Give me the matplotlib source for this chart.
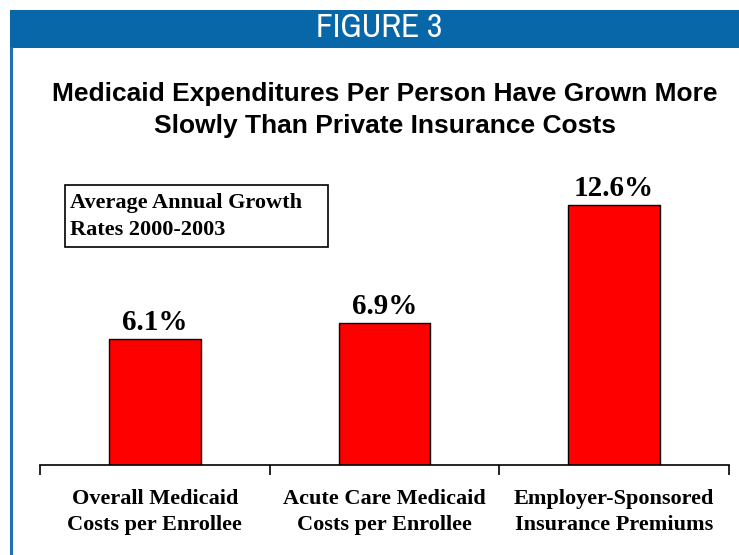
import matplotlib
matplotlib.use("Agg")
import matplotlib.pyplot as plt
from matplotlib.patches import Rectangle
from matplotlib.lines import Line2D

categories = ["Overall Medicaid\nCosts per Enrollee",
              "Acute Care Medicaid\nCosts per Enrollee",
              "Employer-Sponsored\nInsurance Premiums"]
values = [6.1, 6.9, 12.6]
value_labels = ["6.1%", "6.9%", "12.6%"]

W, H = 739, 555
fig = plt.figure(figsize=(W / 100, H / 100), dpi=100)
fig.patch.set_facecolor("white")

def fx(x):
    return x / W

def fy(y):
    return 1 - y / H

blue = "#0867a9"
fig.patches.append(Rectangle((fx(10), fy(48)), fx(739 - 10), (48 - 10) / H,
                             transform=fig.transFigure, facecolor=blue,
                             edgecolor="none", zorder=0))
fig.lines.append(Line2D([fx(11), fx(11)], [fy(48), 0], transform=fig.transFigure,
                        color="#1f70b8", linewidth=2.2))

fig.text(fx(379), fy(28), "FIGURE 3", color="white", ha="center", va="center",
         fontsize=24, family=["Archivo Narrow", "DejaVu Sans"])

fig.text(fx(385), fy(110), "Medicaid Expenditures Per Person Have Grown More\nSlowly Than Private Insurance Costs",
         ha="center", va="center", fontsize=19, fontweight="bold",
         family="Liberation Sans", linespacing=1.4)

ax = fig.add_axes([fx(40), 1 - 465 / H, fx(729 - 40), (465 - 176) / H])
x = list(range(len(categories)))
ax.bar(x, values, width=0.4, color="#ff0000", edgecolor="black", linewidth=1)
ax.set_xlim(-0.5, 2.5)
ax.set_ylim(0, 14)
for s in ["top", "right", "left"]:
    ax.spines[s].set_visible(False)
ax.spines["bottom"].set_linewidth(1.2)
ax.set_yticks([])
ax.set_xticks([-0.5, 0.5, 1.5, 2.5])
ax.set_xticklabels([])
ax.tick_params(axis="x", which="major", length=7, width=1.2, direction="out")
ax.set_xticks(x, minor=True)
ax.set_xticklabels(categories, minor=True, fontsize=16, fontweight="bold",
                   family="Liberation Serif", linespacing=1.45)
ax.tick_params(axis="x", which="minor", length=0, pad=17)

for xi, v, lab in zip(x, values, value_labels):
    ax.annotate(lab, (xi, v), xytext=(0, 2), textcoords="offset points",
                ha="center", va="bottom", fontsize=21, fontweight="bold",
                family="Liberation Serif")

fig.patches.append(Rectangle((fx(65), fy(247)), fx(328 - 65), (247 - 185) / H,
                             transform=fig.transFigure, facecolor="white",
                             edgecolor="black", linewidth=1.2))
fig.text(fx(70), fy(216.5), "Average Annual Growth\nRates 2000-2003", ha="left",
         va="center", fontsize=16, fontweight="bold", family="Liberation Serif",
         linespacing=1.5)

fig.savefig("out.png", dpi=100)
